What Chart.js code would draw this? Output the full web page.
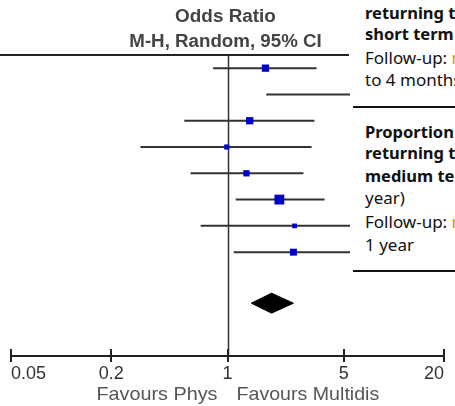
<!DOCTYPE html>
<html><head><meta charset="utf-8">
<script src="https://cdn.jsdelivr.net/npm/chart.js@4.4.0/dist/chart.umd.min.js"></script>
<style>
html,body{margin:0;padding:0;background:#fff;}
#wrap{position:relative;width:455px;height:406px;overflow:hidden;}
#c{position:absolute;left:0;top:0;}
#panel{position:absolute;left:350px;top:0;width:105px;height:274px;background:#fff;overflow:hidden;font-family:"Noto Sans";font-size:17px;color:#111;white-space:nowrap;}
.t{position:absolute;left:15px;line-height:22px;height:22px;letter-spacing:0;}
.b{font-weight:bold;font-size:16.5px;letter-spacing:0;}
.o{color:#e69500;}
.rule{position:absolute;left:3px;width:110px;height:2px;background:#111;}
</style></head>
<body><div id="wrap"><canvas id="c" width="455" height="406"></canvas>
<div id="panel">
<div class="t b" style="top:2px">returning to</div>
<div class="t b" style="top:23px">short term</div>
<div class="t" style="top:47px">Follow-up: <span class="o">m</span></div>
<div class="t" style="top:69px">to 4 months</div>
<div class="rule" style="top:106px"></div>
<div class="t b" style="top:121px">Proportion</div>
<div class="t b" style="top:142px">returning to</div>
<div class="t b" style="top:165px">medium term</div>
<div class="t" style="top:187px">year)</div>
<div class="t" style="top:211px">Follow-up: <span class="o">m</span></div>
<div class="t" style="top:234px">1 year</div>
<div class="rule" style="top:270px"></div>
</div></div>
<script>
// study rows (top to bottom)
const studies = ["S1","S2","S3","S4","S5","S6","S7","S8"];
const oddsRatio = [1.69, 8.0, 1.36, 0.99, 1.30, 2.05, 2.53, 2.49];
const ciLower   = [0.82, 1.71, 0.55, 0.30, 0.60, 1.12, 0.69, 1.09];
const ciUpper   = [3.43, 37.0, 3.33, 3.20, 2.86, 3.83, 9.3, 5.7];
const weights   = [12, 10, 12, 6, 9, 22, 5, 11];
const pooledOR = 1.84, pooledLower = 1.39, pooledUpper = 2.49;
const xTickValues = [0.05, 0.2, 1, 5, 20];
const xTickLabels = ["0.05", "0.2", "1", "5", "20"];
const favourLeft = "Favours Phys", favourRight = "Favours Multidis";
const headerLines = ["Odds Ratio", "M-H, Random, 95% CI"];

const POOLED_ROW = 9.94;

const datasets = [];
datasets.push({
  label: 'est',
  data: studies.map((s, i) => ({x: oddsRatio[i], y: i + 1})),
  showLine: false,
  pointStyle: 'rect',
  pointRadius: weights.map(w => Math.sqrt(w) * 2.1 / Math.SQRT2),
  backgroundColor: '#0000c8',
  borderWidth: 0,
  pointBorderWidth: 0
});
studies.forEach((s, i) => {
  datasets.push({
    label: s,
    data: [{x: ciLower[i], y: i + 1}, {x: ciUpper[i], y: i + 1}],
    showLine: true,
    borderColor: '#333',
    borderWidth: 2,
    pointRadius: 0
  });
});
datasets.push({
  label: 'pooled',
  data: [
    {x: pooledLower, y: POOLED_ROW},
    {x: pooledOR, y: POOLED_ROW - 0.38},
    {x: pooledUpper, y: POOLED_ROW},
    {x: pooledOR, y: POOLED_ROW + 0.38},
    {x: pooledLower, y: POOLED_ROW}
  ],
  showLine: true,
  fill: 'shape',
  borderColor: '#000',
  backgroundColor: '#000',
  borderWidth: 1,
  pointRadius: 0,
  tension: 0
});

function stretchText(ctx, text, x, y, align, sx) {
  const w = ctx.measureText(text).width * sx;
  let left = x;
  if (align === 'center') left = x - w / 2;
  else if (align === 'right') left = x - w;
  ctx.save();
  ctx.translate(left, y);
  ctx.scale(sx, 1);
  ctx.textAlign = 'left';
  ctx.fillText(text, 0, 0);
  ctx.restore();
}

const deco = {
  id: 'deco',
  beforeDatasetsDraw(chart) {
    const {ctx, chartArea: a, scales: {x}} = chart;
    const px = Math.round(x.getPixelForValue(1)) + 0.5;
    ctx.save();
    ctx.strokeStyle = '#333'; ctx.lineWidth = 1.5;
    ctx.beginPath(); ctx.moveTo(px, a.top); ctx.lineTo(px, a.bottom); ctx.stroke();
    ctx.strokeStyle = '#222'; ctx.lineWidth = 2;
    ctx.beginPath(); ctx.moveTo(0, a.top); ctx.lineTo(349, a.top); ctx.stroke();
    ctx.restore();
  },
  afterDraw(chart) {
    const {ctx, chartArea: a, scales: {x}} = chart;
    ctx.save();
    ctx.strokeStyle = '#222'; ctx.lineWidth = 2;
    xTickValues.forEach(v => {
      const p = Math.round(x.getPixelForValue(v));
      ctx.beginPath(); ctx.moveTo(p, a.bottom - 7); ctx.lineTo(p, a.bottom); ctx.stroke();
    });
    const c = x.getPixelForValue(1);
    ctx.fillStyle = '#444';
    ctx.font = 'bold 18px "Liberation Sans"';
    ctx.textBaseline = 'middle';
    stretchText(ctx, headerLines[0], c - 2, 17, 'center', 1.05);
    stretchText(ctx, headerLines[1], c - 2, 42, 'center', 1.04);
    ctx.fillStyle = '#555';
    ctx.font = '18.5px "Liberation Sans"';
    stretchText(ctx, favourLeft, c - 10, 395, 'right', 1.07);
    stretchText(ctx, favourRight, c + 9, 395, 'left', 1.06);
    ctx.restore();
  }
};

new Chart(document.getElementById('c'), {
  type: 'scatter',
  data: {datasets},
  options: {
    responsive: false,
    animation: false,
    devicePixelRatio: 1,
    layout: {padding: {left: 11, right: 11, top: 55, bottom: 0}},
    plugins: {legend: {display: false}, tooltip: {enabled: false}},
    scales: {
      x: {
        type: 'logarithmic', min: 0.05, max: 20, position: 'bottom',
        afterBuildTicks: s => { s.ticks = xTickValues.map(v => ({value: v})); },
        afterFit: s => { s.height = 50; },
        grid: {drawOnChartArea: false, drawTicks: true, tickLength: 6, color: '#222', lineWidth: 2},
        border: {display: true, color: '#222', width: 2},
        ticks: {
          align: 'inner', autoSkip: false, maxRotation: 0, minRotation: 0, padding: 1,
          color: '#333', font: {family: 'Liberation Sans', size: 18},
          callback: (v, i) => xTickLabels[i]
        }
      },
      y: {type: 'linear', min: 0.5, max: 11.95, reverse: true, display: false}
    }
  },
  plugins: [deco]
});
</script>
</body></html>
